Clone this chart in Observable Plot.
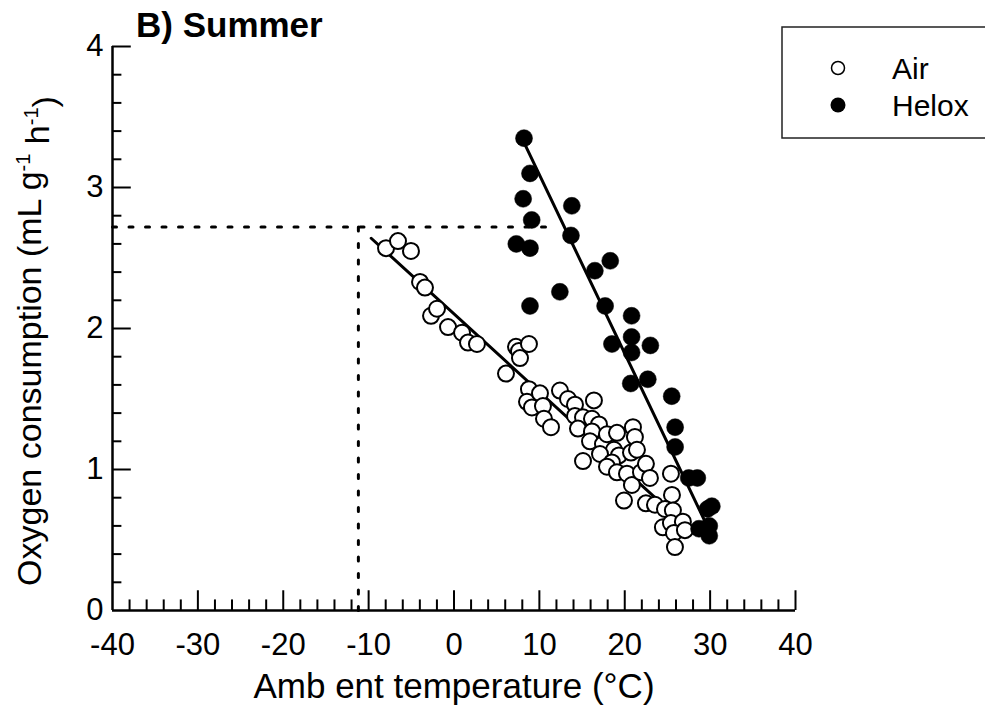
<!DOCTYPE html>
<html>
<head>
<meta charset="utf-8">
<script src="https://cdn.jsdelivr.net/npm/d3@7"></script>
<script src="https://cdn.jsdelivr.net/npm/@observablehq/plot@0.6"></script>
<style>
  html, body { margin: 0; padding: 0; background: #fff; }
  #chart { width: 985px; height: 725px; }
</style>
</head>
<body>
<div id="chart"></div>
<script>
// ---- Data ----
const airTemp = [-7.96,-6.56,-5.04,-3.98,-3.40,-2.69,-1.99,-0.70,0.94,1.64,2.69,6.09,7.26,7.61,8.78,7.73,8.78,8.55,10.07,9.13,10.42,10.54,11.36,12.41,13.35,14.17,16.39,14.17,15.11,16.16,16.98,14.52,16.16,15.11,15.93,17.45,17.92,19.09,20.96,21.19,18.74,19.32,20.73,21.43,17.10,18.50,17.92,19.09,20.26,20.84,21.90,22.48,22.95,19.91,22.48,23.54,25.41,25.53,24.71,25.64,24.47,25.41,26.81,25.76,27.05,25.88];
const airVO2  = [2.57,2.62,2.55,2.33,2.29,2.09,2.14,2.01,1.97,1.90,1.89,1.68,1.87,1.84,1.89,1.79,1.57,1.48,1.54,1.44,1.45,1.36,1.30,1.56,1.50,1.46,1.49,1.38,1.37,1.36,1.32,1.29,1.27,1.06,1.20,1.18,1.25,1.26,1.30,1.23,1.14,1.10,1.12,1.14,1.11,1.05,1.02,0.98,0.97,0.89,0.98,1.04,0.94,0.78,0.76,0.75,0.97,0.82,0.72,0.71,0.59,0.62,0.63,0.55,0.57,0.45];

const heloxTemp = [8.2,8.9,8.1,9.1,13.8,7.3,8.9,13.7,16.5,18.3,12.4,8.9,17.7,20.8,20.8,18.5,23.0,20.8,20.7,22.7,25.5,25.9,25.9,27.5,28.5,29.7,30.2,28.7,29.9,29.9];
const heloxVO2  = [3.35,3.10,2.92,2.77,2.87,2.60,2.57,2.66,2.41,2.48,2.26,2.16,2.16,2.09,1.94,1.89,1.88,1.83,1.61,1.64,1.52,1.30,1.16,0.94,0.94,0.72,0.74,0.58,0.60,0.53];

// regression lines (end points)
const airFitTemp = [-9.7, 27.0];
const airFitVO2  = [2.64, 0.61];
const heloxFitTemp = [7.8, 30.2];
const heloxFitVO2  = [3.37, 0.53];

// dotted reference lines (extrapolation point)
const refTemp = [-40, -11.2, 11.6];
const refVO2  = [0, 2.72];

// axes / ticks
const xTickLabels = [-40, -30, -20, -10, 0, 10, 20, 30, 40];
const yTickLabels = [0, 1, 2, 3, 4];
const xMinorStep = 2;
const yMinorStep = 0.2;

const seriesNames = ["Air", "Helox"];
const titleText = "B) Summer";
const xLabelText = "Amb ent temperature (°C)";

// ---- Build tables ----
const air = airTemp.map((t, i) => ({t, v: airVO2[i]}));
const helox = heloxTemp.map((t, i) => ({t, v: heloxVO2[i]}));
const airFit = airFitTemp.map((t, i) => ({t, v: airFitVO2[i]}));
const heloxFit = heloxFitTemp.map((t, i) => ({t, v: heloxFitVO2[i]}));
const refH = [{t: refTemp[0], v: refVO2[1]}, {t: refTemp[2], v: refVO2[1]}];
const refV = [{t: refTemp[1], v: refVO2[1]}, {t: refTemp[1], v: refVO2[0]}];

const xMin = xTickLabels[0], xMax = xTickLabels[xTickLabels.length - 1];
const yMin = yTickLabels[0], yMax = yTickLabels[yTickLabels.length - 1];
const xMajor = xTickLabels.filter(d => d !== xMin);
const xMinor = d3.range(xMin + xMinorStep, xMax, xMinorStep).filter(d => Math.abs(d % 10) > 1e-9);
const yMajor = yTickLabels.filter(d => d !== yMin);
const yMinor = d3.range(yMin + yMinorStep, yMax, yMinorStep).map(d => +d.toFixed(2)).filter(d => Math.abs(d - Math.round(d)) > 1e-9);

const font = "'Liberation Sans', Arial, Helvetica, sans-serif";

const svg = Plot.plot({
  width: 985,
  height: 725,
  marginLeft: 112,
  marginRight: 190,
  marginTop: 46,
  marginBottom: 115,
  style: {fontFamily: font, background: "white", color: "black", overflow: "visible"},
  x: {domain: [xMin, xMax]},
  y: {domain: [yMin, yMax]},
  marks: [
    // axis lines
    Plot.ruleY([yMin], {x1: xMin, x2: xMax, stroke: "black", strokeWidth: 2.5}),
    Plot.ruleX([xMin], {y1: yMin, y2: yMax, stroke: "black", strokeWidth: 2.5}),
    // inward ticks
    Plot.ruleX(xMajor, {x: d => d, y1: yMin, y2: yMin + 0.14, stroke: "black", strokeWidth: 2}),
    Plot.ruleX(xMinor, {x: d => d, y1: yMin, y2: yMin + 0.075, stroke: "black", strokeWidth: 2}),
    Plot.ruleY(yMajor, {y: d => d, x1: xMin, x2: xMin + 2.2, stroke: "black", strokeWidth: 2}),
    Plot.ruleY(yMinor, {y: d => d, x1: xMin, x2: xMin + 1.1, stroke: "black", strokeWidth: 2}),
    // tick labels
    Plot.axisX({ticks: xTickLabels, tickSize: 0, tickPadding: 22, fontSize: 31, label: null, tickFormat: d => String(d)}),
    Plot.axisY({ticks: yTickLabels, tickSize: 0, tickPadding: 9, fontSize: 31, label: null, tickFormat: d => String(d)}),
    // dotted reference lines
    Plot.line(refH, {x: "t", y: "v", stroke: "black", strokeWidth: 3, strokeDasharray: "4,12.5"}),
    Plot.line(refV, {x: "t", y: "v", stroke: "black", strokeWidth: 3, strokeDasharray: "4,12.5"}),
    // regression lines
    Plot.line(airFit, {x: "t", y: "v", stroke: "black", strokeWidth: 3}),
    Plot.line(heloxFit, {x: "t", y: "v", stroke: "black", strokeWidth: 3}),
    // points
    Plot.dot(air, {x: "t", y: "v", r: 8, fill: "white", stroke: "black", strokeWidth: 2}),
    Plot.dot(helox, {x: "t", y: "v", r: 8.5, fill: "black", stroke: "black", strokeWidth: 0.5}),
    // x axis title
    Plot.text([xLabelText], {frameAnchor: "bottom", dy: 87, fontSize: 35, fill: "black", text: d => d})
  ]
});

const s = d3.select(svg);

// title
s.append("text").attr("x", 136).attr("y", 37)
  .attr("text-anchor", "start")
  .attr("font-family", font).attr("font-weight", "bold").attr("font-size", 35)
  .attr("fill", "black").text(titleText);

// y-axis title with superscripts
const yl = s.append("text")
  .attr("transform", "translate(41,341) rotate(-90)")
  .attr("text-anchor", "middle")
  .attr("font-family", font).attr("font-size", 34).attr("fill", "black");
yl.append("tspan").text("Oxygen consumption (mL g");
yl.append("tspan").attr("dy", "-0.55em").attr("font-size", 20).text("-1");
yl.append("tspan").attr("dy", "0.55em").text(" h");
yl.append("tspan").attr("dy", "-0.55em").attr("font-size", 20).text("-1");
yl.append("tspan").attr("dy", "0.55em").text(")");

// legend
const lg = s.append("g");
lg.append("rect").attr("x", 782).attr("y", 27).attr("width", 220).attr("height", 111)
  .attr("fill", "white").attr("stroke", "#222").attr("stroke-width", 1.5);
lg.append("circle").attr("cx", 838).attr("cy", 68).attr("r", 6.5)
  .attr("fill", "white").attr("stroke", "black").attr("stroke-width", 1.5);
lg.append("circle").attr("cx", 838).attr("cy", 105).attr("r", 7.5).attr("fill", "black");
lg.append("text").attr("x", 892).attr("y", 79).attr("text-anchor", "start")
  .attr("font-family", font).attr("font-size", 30)
  .attr("fill", "black").text(seriesNames[0]);
lg.append("text").attr("x", 892).attr("y", 116).attr("text-anchor", "start")
  .attr("font-family", font).attr("font-size", 30)
  .attr("fill", "black").text(seriesNames[1]);

document.getElementById("chart").appendChild(svg);
</script>
</body>
</html>
